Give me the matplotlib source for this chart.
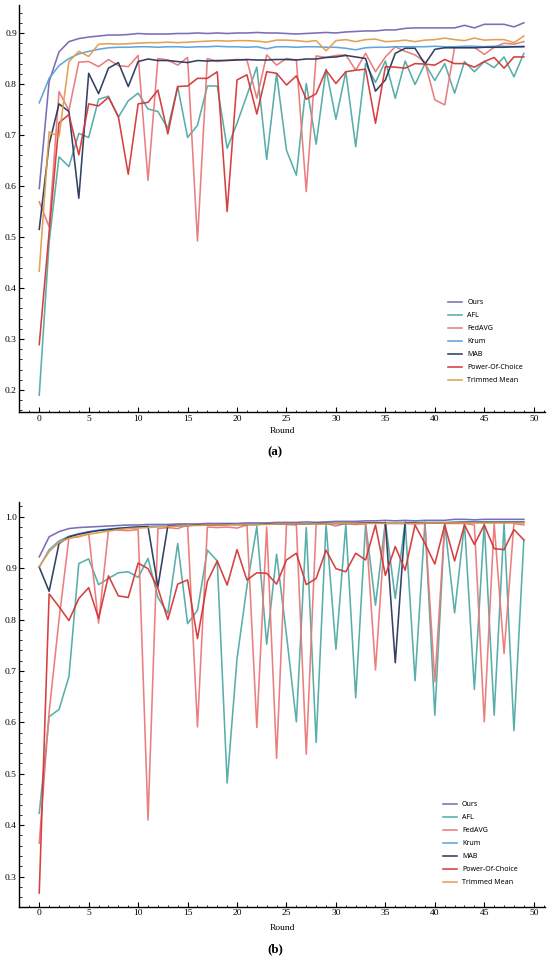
import numpy as np
import matplotlib
matplotlib.use('Agg')
import matplotlib.pyplot as plt
from matplotlib.ticker import MultipleLocator, FormatStrFormatter

# Rounds 0..49
rounds = list(range(50))

labels = ['Ours', 'AFL', 'FedAVG', 'Krum', 'MAB', 'Power-Of-Choice', 'Trimmed Mean']
colors = ['#7565b3', '#50aaa5', '#ea7878', '#5aa0dc', '#28375a', '#d53535', '#e09d4c']

# --- (a) accuracy per round ---
ours_a = [0.595, 0.805, 0.863, 0.883, 0.889, 0.892, 0.894, 0.896, 0.896, 0.897,
          0.899, 0.898, 0.898, 0.898, 0.899, 0.899, 0.900, 0.899, 0.900, 0.899,
          0.900, 0.900, 0.901, 0.900, 0.900, 0.899, 0.898, 0.899, 0.900, 0.901,
          0.900, 0.902, 0.903, 0.904, 0.904, 0.906, 0.906, 0.909, 0.910, 0.910,
          0.910, 0.910, 0.910, 0.915, 0.910, 0.917, 0.917, 0.917, 0.912, 0.920]
afl_a = [0.190, 0.490, 0.657, 0.638, 0.703, 0.695, 0.770, 0.776, 0.735, 0.767,
         0.782, 0.751, 0.746, 0.713, 0.795, 0.695, 0.719, 0.796, 0.796, 0.674,
         0.723, 0.778, 0.833, 0.652, 0.820, 0.670, 0.621, 0.801, 0.682, 0.829,
         0.731, 0.824, 0.677, 0.840, 0.803, 0.845, 0.772, 0.845, 0.799, 0.840,
         0.807, 0.840, 0.782, 0.844, 0.824, 0.844, 0.832, 0.853, 0.814, 0.860]
fedavg_a = [0.569, 0.520, 0.785, 0.748, 0.843, 0.844, 0.834, 0.848, 0.836, 0.834,
            0.856, 0.611, 0.850, 0.847, 0.837, 0.852, 0.492, 0.850, 0.844, 0.847,
            0.848, 0.847, 0.772, 0.857, 0.837, 0.850, 0.847, 0.589, 0.855, 0.852,
            0.856, 0.857, 0.827, 0.860, 0.824, 0.853, 0.873, 0.864, 0.857, 0.843,
            0.769, 0.759, 0.872, 0.872, 0.872, 0.858, 0.872, 0.880, 0.878, 0.883]
krum_a = [0.763, 0.811, 0.836, 0.850, 0.859, 0.864, 0.868, 0.871, 0.872, 0.872,
          0.873, 0.873, 0.872, 0.873, 0.873, 0.872, 0.873, 0.873, 0.874, 0.873,
          0.873, 0.872, 0.873, 0.869, 0.873, 0.873, 0.872, 0.873, 0.873, 0.872,
          0.872, 0.870, 0.867, 0.871, 0.872, 0.872, 0.873, 0.873, 0.873, 0.873,
          0.874, 0.873, 0.873, 0.874, 0.874, 0.873, 0.874, 0.874, 0.873, 0.874]
mab_a = [0.515, 0.682, 0.761, 0.746, 0.576, 0.821, 0.781, 0.831, 0.842, 0.795,
         0.844, 0.849, 0.846, 0.846, 0.844, 0.842, 0.846, 0.845, 0.846, 0.846,
         0.847, 0.848, 0.847, 0.847, 0.848, 0.848, 0.847, 0.849, 0.849, 0.852,
         0.853, 0.856, 0.853, 0.850, 0.786, 0.808, 0.860, 0.870, 0.870, 0.839,
         0.868, 0.871, 0.871, 0.871, 0.871, 0.872, 0.872, 0.872, 0.873, 0.873]
poc_a = [0.289, 0.510, 0.724, 0.740, 0.661, 0.761, 0.757, 0.774, 0.736, 0.623,
         0.761, 0.764, 0.788, 0.702, 0.795, 0.796, 0.811, 0.811, 0.824, 0.550,
         0.808, 0.818, 0.741, 0.824, 0.821, 0.798, 0.816, 0.770, 0.781, 0.827,
         0.801, 0.824, 0.827, 0.829, 0.723, 0.834, 0.833, 0.831, 0.840, 0.839,
         0.837, 0.848, 0.840, 0.840, 0.833, 0.844, 0.852, 0.831, 0.853, 0.853]
trimmed_a = [0.433, 0.706, 0.697, 0.844, 0.864, 0.854, 0.878, 0.879, 0.878, 0.879,
             0.880, 0.881, 0.881, 0.882, 0.881, 0.882, 0.883, 0.884, 0.885, 0.884,
             0.885, 0.885, 0.884, 0.882, 0.886, 0.886, 0.885, 0.883, 0.885, 0.865,
             0.885, 0.887, 0.883, 0.887, 0.888, 0.883, 0.884, 0.886, 0.883, 0.886,
             0.887, 0.890, 0.887, 0.885, 0.890, 0.886, 0.887, 0.887, 0.881, 0.894]

# --- (b) accuracy per round ---
ours_b = [0.922, 0.961, 0.971, 0.977, 0.979, 0.980, 0.981, 0.982, 0.983, 0.984,
          0.984, 0.985, 0.985, 0.985, 0.986, 0.986, 0.986, 0.987, 0.987, 0.987,
          0.987, 0.988, 0.988, 0.988, 0.989, 0.989, 0.989, 0.990, 0.989, 0.990,
          0.991, 0.991, 0.991, 0.992, 0.992, 0.993, 0.992, 0.993, 0.992, 0.993,
          0.993, 0.993, 0.995, 0.995, 0.994, 0.995, 0.995, 0.995, 0.995, 0.995]
afl_b = [0.423, 0.611, 0.625, 0.689, 0.909, 0.918, 0.868, 0.880, 0.891, 0.893,
         0.882, 0.919, 0.843, 0.812, 0.948, 0.792, 0.818, 0.935, 0.914, 0.482,
         0.724, 0.864, 0.981, 0.752, 0.927, 0.770, 0.601, 0.979, 0.561, 0.985,
         0.742, 0.985, 0.648, 0.987, 0.828, 0.990, 0.841, 0.990, 0.681, 0.990,
         0.614, 0.987, 0.813, 0.987, 0.664, 0.987, 0.614, 0.987, 0.584, 0.955]
fedavg_b = [0.365, 0.620, 0.800, 0.959, 0.961, 0.967, 0.793, 0.974, 0.974, 0.973,
            0.975, 0.410, 0.977, 0.979, 0.977, 0.984, 0.591, 0.980, 0.979, 0.980,
            0.978, 0.984, 0.590, 0.980, 0.530, 0.985, 0.984, 0.538, 0.985, 0.987,
            0.982, 0.987, 0.985, 0.986, 0.702, 0.987, 0.987, 0.987, 0.986, 0.987,
            0.679, 0.987, 0.987, 0.987, 0.984, 0.601, 0.987, 0.734, 0.987, 0.984]
krum_b = [0.902, 0.936, 0.953, 0.962, 0.967, 0.971, 0.974, 0.976, 0.978, 0.979,
          0.980, 0.981, 0.982, 0.982, 0.983, 0.983, 0.984, 0.984, 0.984, 0.985,
          0.985, 0.985, 0.985, 0.986, 0.986, 0.986, 0.986, 0.987, 0.987, 0.987,
          0.987, 0.987, 0.988, 0.988, 0.988, 0.988, 0.988, 0.989, 0.989, 0.989,
          0.989, 0.989, 0.989, 0.990, 0.990, 0.990, 0.990, 0.990, 0.990, 0.990]
mab_b = [0.902, 0.855, 0.948, 0.961, 0.966, 0.970, 0.973, 0.975, 0.977, 0.979,
         0.980, 0.981, 0.864, 0.982, 0.983, 0.983, 0.984, 0.984, 0.984, 0.985,
         0.985, 0.985, 0.985, 0.986, 0.986, 0.986, 0.986, 0.986, 0.987, 0.987,
         0.987, 0.987, 0.987, 0.988, 0.988, 0.988, 0.716, 0.988, 0.988, 0.988,
         0.988, 0.988, 0.989, 0.989, 0.989, 0.989, 0.989, 0.989, 0.989, 0.989]
poc_b = [0.268, 0.850, 0.825, 0.798, 0.841, 0.862, 0.802, 0.885, 0.846, 0.843,
         0.910, 0.899, 0.861, 0.800, 0.869, 0.877, 0.763, 0.874, 0.914, 0.867,
         0.936, 0.877, 0.891, 0.890, 0.869, 0.916, 0.929, 0.868, 0.880, 0.935,
         0.899, 0.893, 0.929, 0.916, 0.984, 0.886, 0.942, 0.896, 0.984, 0.948,
         0.908, 0.984, 0.914, 0.984, 0.946, 0.984, 0.938, 0.936, 0.975, 0.955]
trimmed_b = [0.903, 0.932, 0.950, 0.958, 0.962, 0.966, 0.969, 0.972, 0.975, 0.977,
             0.978, 0.979, 0.980, 0.981, 0.982, 0.983, 0.983, 0.984, 0.984, 0.984,
             0.985, 0.985, 0.985, 0.985, 0.986, 0.986, 0.986, 0.986, 0.986, 0.986,
             0.987, 0.987, 0.987, 0.987, 0.987, 0.987, 0.987, 0.987, 0.987, 0.988,
             0.988, 0.988, 0.988, 0.988, 0.988, 0.988, 0.988, 0.988, 0.988, 0.988]

series_a = [ours_a, afl_a, fedavg_a, krum_a, mab_a, poc_a, trimmed_a]
series_b = [ours_b, afl_b, fedavg_b, krum_b, mab_b, poc_b, trimmed_b]

serif = ['Liberation Serif', 'DejaVu Serif']
sans = ['Noto Sans', 'DejaVu Sans']

fig = plt.figure(figsize=(5.5, 9.59), dpi=100)
ax_a = fig.add_axes([0.0345, 0.5699, 0.9564, 0.4249])
ax_b = fig.add_axes([0.0345, 0.0542, 0.9564, 0.4226])


def style_axis(ax, ylim, yticks):
    ax.set_xlim(-2.05, 51.14)
    ax.set_ylim(*ylim)
    for side in ['top', 'right']:
        ax.spines[side].set_visible(False)
    for side in ['left', 'bottom']:
        ax.spines[side].set_linewidth(1.0)
    ax.xaxis.set_major_locator(MultipleLocator(5))
    ax.xaxis.set_minor_locator(MultipleLocator(1))
    ax.set_yticks(yticks)
    ax.yaxis.set_minor_locator(MultipleLocator(0.02))
    ax.yaxis.set_major_formatter(FormatStrFormatter('%.1f'))
    ax.tick_params(which='major', direction='in', length=3.5, width=0.8,
                   labelsize=6.8, pad=1.5)
    ax.tick_params(which='minor', direction='in', length=1.8, width=0.6)
    for lab in ax.get_xticklabels() + ax.get_yticklabels():
        lab.set_family(serif)


def draw_panel(ax, series, legend_xy):
    handles = []
    for vals, lab, col in zip(series, labels, colors):
        h, = ax.plot(rounds, vals, color=col, linewidth=1.15, alpha=0.95,
                     label=lab)
        handles.append(h)
    fig.legend(handles=handles, loc='upper left', bbox_to_anchor=legend_xy,
               frameon=False, borderpad=0, borderaxespad=0,
               handlelength=2.0, handletextpad=0.7, labelspacing=0.85,
               prop={'family': sans, 'size': 5.1})


draw_panel(ax_a, series_a, (448 / 550, 1 - 299 / 959))
style_axis(ax_a, (0.1559, 0.9549), [0.2, 0.3, 0.4, 0.5, 0.6, 0.7, 0.8, 0.9])

draw_panel(ax_b, series_b, (443 / 550, 1 - 801 / 959))
style_axis(ax_b, (0.2407, 1.0292), [0.3, 0.4, 0.5, 0.6, 0.7, 0.8, 0.9, 1.0])

# Axis titles and panel tags
fig.text(282 / 550, 1 - 431 / 959, 'Round', ha='center', va='center',
         family=serif, fontsize=6.8)
fig.text(0.5, 1 - 452 / 959, '(a)', ha='center', va='center',
         family=serif, fontsize=9.3, fontweight='bold')
fig.text(282 / 550, 1 - 928 / 959, 'Round', ha='center', va='center',
         family=serif, fontsize=6.8)
fig.text(0.5, 1 - 949 / 959, '(b)', ha='center', va='center',
         family=serif, fontsize=9.3, fontweight='bold')

fig.savefig('out.png', dpi=100)
